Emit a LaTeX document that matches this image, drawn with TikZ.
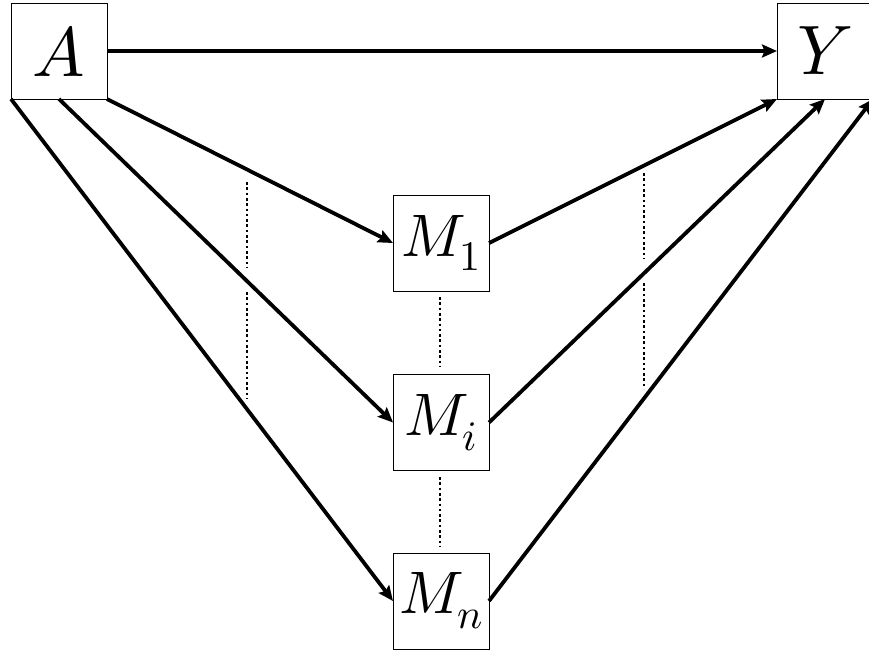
\documentclass[tikz,border=0pt]{standalone}
\usepackage{unicode-math}
\setmathfont{Latin Modern Math}
\usetikzlibrary{arrows.meta}
\begin{document}
\begin{tikzpicture}[x=1pt,y=-1pt,
  box/.style={draw,line width=1pt,minimum width=96pt,minimum height=96pt,inner sep=0pt,outer sep=0pt,fill=white},
  big/.style={font=\fontsize{70}{80}\selectfont},
  mid/.style={font=\fontsize{60}{70}\selectfont},
  conn/.style={line width=3.8pt,-{Stealth[length=15pt,width=13pt,inset=2.5pt]}},
  dots/.style={line width=2.6pt,dash pattern=on 2.6pt off 2.7pt}]
\useasboundingbox (0,0) rectangle (869,651);
\node[box,big] (A) at (59,51) {$A$};
\node[box,big] (Y) at (825,51) {$Y$};
\node[box,mid] (M1) at (441,243) {$M_1$};
\node[box,mid] (Mi) at (441,422.5) {$M_i$};
\node[box,mid] (Mn) at (441,601) {$M_n$};
% dotted guide lines
\coordinate (l1) at (247,182); \coordinate (l2) at (247,268);
\coordinate (l3) at (247,292); \coordinate (l4) at (247,399);
\coordinate (r1) at (644,173); \coordinate (r2) at (644,258);
\coordinate (r3) at (644,283); \coordinate (r4) at (644,389);
\coordinate (c1) at (440,297); \coordinate (c2) at (440,367);
\coordinate (c3) at (440,477); \coordinate (c4) at (440,547);
\draw[dots] (l1) -- (l2) (l3) -- (l4);
\draw[dots] (r1) -- (r2) (r3) -- (r4);
\draw[dots] (c1) -- (c2) (c3) -- (c4);
% arrows
\draw[conn] (A.east) -- (Y.west);
\draw[conn] (A.south east) -- (M1.west);
\draw[conn] (A.south) -- (Mi.west);
\draw[conn] (A.south west) -- (Mn.west);
\draw[conn] (M1.east) -- (Y.south west);
\draw[conn] (Mi.east) -- (Y.south);
\draw[conn] (Mn.east) -- (Y.south east);
\end{tikzpicture}
\end{document}
